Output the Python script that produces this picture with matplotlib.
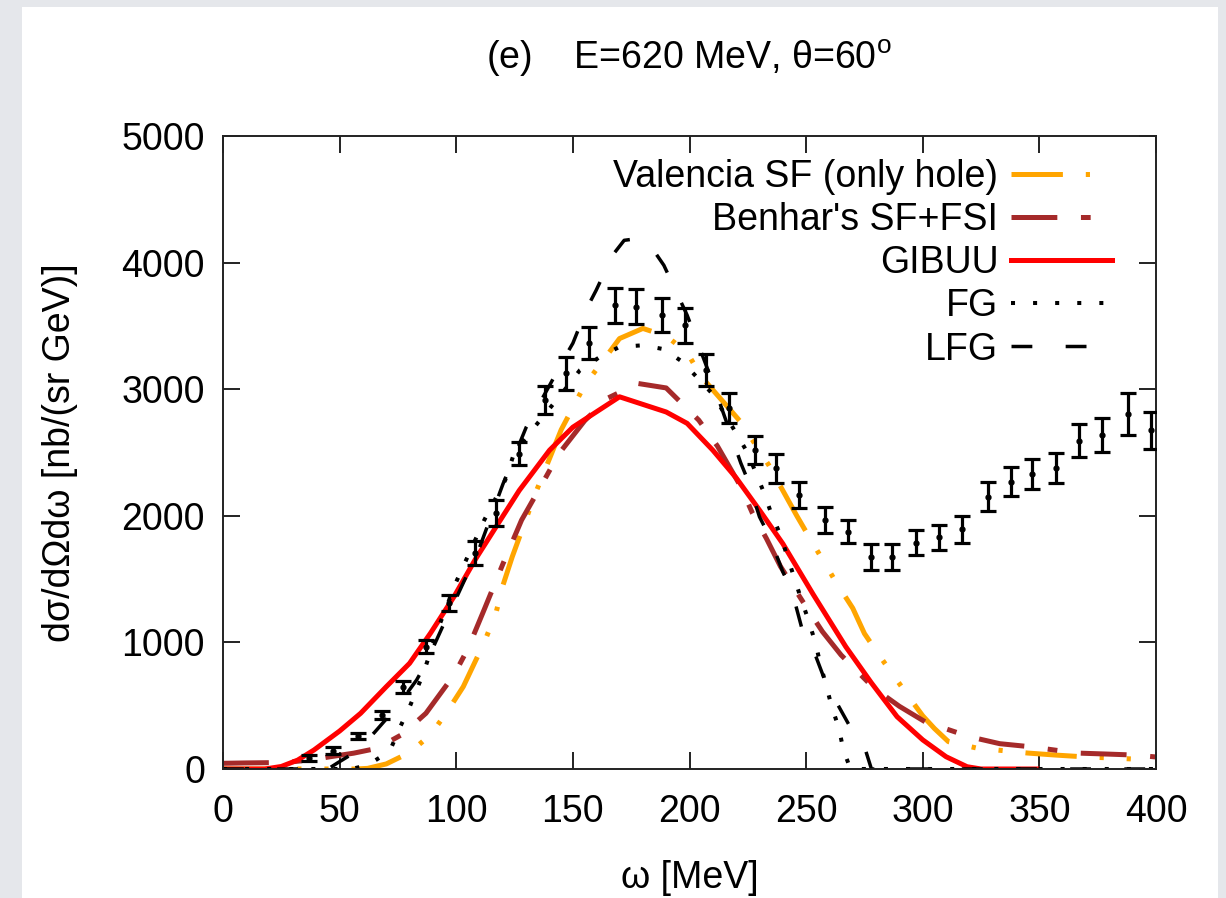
import numpy as np
import matplotlib
matplotlib.use('Agg')
import matplotlib.pyplot as plt
from matplotlib.patches import Rectangle

plt.rcParams['font.family'] = ['Liberation Sans', 'DejaVu Sans']
plt.rcParams['mathtext.fontset'] = 'custom'
plt.rcParams['mathtext.rm'] = 'Liberation Sans'
plt.rcParams['lines.scale_dashes'] = False

# experimental data
data_w = [37, 47, 58, 68, 77, 87, 97, 108, 117, 127, 138, 147, 157, 168, 177, 188, 198, 207, 217,
          228, 237, 247, 258, 268, 278, 287, 297, 307, 317, 328, 338, 347, 357, 367, 377, 388, 398]
data_y = [87, 145, 260, 426, 650, 966, 1310, 1705, 2021, 2490, 2913, 3126, 3363, 3663, 3650, 3585, 3505, 3150, 2850,
          2518, 2376, 2163, 1966, 1874, 1673, 1673, 1787, 1830, 1893, 2150, 2268, 2329, 2376, 2592, 2637, 2803, 2676]
data_err = [25, 25, 22, 33, 46, 53, 65, 92, 100, 90, 110, 130, 125, 138, 138, 135, 140, 125, 120,
            110, 115, 105, 100, 90, 105, 105, 100, 100, 105, 115, 115, 120, 120, 130, 135, 165, 145]

# Valencia SF (only hole)
val_w = [0, 20, 40, 57, 62, 70, 80, 89, 96, 103, 112, 117, 120, 124, 134, 145, 155, 170, 180, 190, 199, 205,
         214, 222, 234, 240, 246, 252, 263, 270, 275, 282, 295, 300, 305, 311, 323, 345, 357, 370, 381, 399]
val_y = [0, 0, 0, 0, 5, 40, 130, 270, 450, 650, 1000, 1230, 1450, 1676, 2180, 2680, 3030, 3400, 3480, 3420, 3290, 3100,
         2910, 2740, 2400, 2200, 2000, 1810, 1470, 1270, 1070, 880, 545, 420, 320, 216, 166, 126, 110, 95, 87, 71]

# Benhar's SF+FSI
ben_w = [0, 10, 20, 30, 38, 46, 56, 66, 77, 87, 99, 105, 112, 120, 128, 137, 144, 155, 165, 178, 190,
         204, 212, 222, 227, 233, 239, 250, 257, 265, 279, 290, 301, 320, 333, 346, 366, 379, 391, 400]
ben_y = [45, 48, 50, 58, 72, 97, 125, 163, 275, 440, 742, 950, 1260, 1620, 1966, 2258, 2490, 2750, 2930, 3045, 3010,
         2755, 2550, 2230, 2020, 1820, 1600, 1281, 1085, 900, 640, 495, 373, 255, 200, 176, 126, 118, 110, 95]

# GIBUU
gib_w = [0, 18, 25, 32, 39, 50, 59, 70, 80, 89, 99, 108, 118, 127, 140, 150, 160, 170, 180, 190, 199,
         210, 220, 230, 240, 253, 267, 278, 289, 300, 310, 319, 325, 349]
gib_y = [0, 0, 20, 70, 150, 300, 440, 650, 835, 1074, 1360, 1650, 1940, 2200, 2518, 2700, 2820, 2940, 2880, 2820, 2730,
         2518, 2300, 2045, 1780, 1380, 966, 680, 413, 230, 97, 18, 0, 0]

# FG
fg_w = [0, 55, 62, 68, 72, 76, 80, 86, 92, 100, 112, 121, 125, 135, 145, 153, 162, 170, 180, 189, 197,
        210, 220, 225, 232, 235, 239, 242, 248, 251, 254, 256, 261, 264, 266, 269, 400]
fg_y = [0, 0, 30, 100, 163, 334, 490, 760, 1100, 1479, 1966, 2282, 2505, 2734, 2960, 3150, 3260, 3334, 3347, 3316, 3216,
        2960, 2653, 2495, 2179, 2021, 1847, 1676, 1334, 1176, 995, 837, 492, 324, 150, 0, 0]

# LFG
lfg_w = [0, 45, 49, 57, 65, 75, 83, 87, 96, 99, 110, 120, 130, 140, 147, 150, 156, 160, 167, 172, 178, 184, 189,
         196, 199, 210, 222, 225, 230, 234, 240, 244, 248, 252, 258, 262, 270, 275, 278, 400]
lfg_y = [0, 0, 47, 137, 290, 500, 703, 834, 1200, 1310, 1750, 2250, 2700, 3030, 3268, 3363, 3640, 3782, 4058, 4176, 4190, 4113, 3979,
         3703, 3584, 3050, 2416, 2282, 1992, 1847, 1558, 1400, 1123, 995, 703, 560, 295, 176, 0, 0]

W, H = 1226, 898
fs = 27

fig = plt.figure(figsize=(W / 100, H / 100), dpi=100, facecolor='#e5e7eb')
fig.add_artist(Rectangle((22 / W, 0), (1218 - 22) / W, (H - 7) / H, transform=fig.transFigure,
                         facecolor='white', edgecolor='none', zorder=-1))
ax = fig.add_axes([223 / W, 1 - 769 / H, 933 / W, 633 / H])

ax.plot(val_w, val_y, color='#ffa500', lw=3.6, dashes=(37, 16.5, 3, 16.5, 3, 16.5), label='Valencia SF (only hole)')
ax.plot(ben_w, ben_y, color='#a52a2a', lw=3.6, dashes=(33, 17, 7, 17), label="Benhar's SF+FSI")
ax.plot(gib_w, gib_y, color='#ff0000', lw=3.6, label='GIBUU')
ax.plot(fg_w, fg_y, color='black', lw=2.9, dashes=(2.9, 13), label='FG')
ax.plot(lfg_w, lfg_y, color='black', lw=2.5, dashes=(15, 24), label='LFG')

ax.errorbar(data_w, data_y, yerr=data_err, fmt='o', color='black', ms=3.5, elinewidth=2.3,
            capsize=6, capthick=2.3, zorder=5)

ax.set_xlim(0, 400)
ax.set_ylim(0, 5000)
ax.set_xticks(np.arange(0, 401, 50))
ax.set_yticks(np.arange(0, 5001, 1000))
for s in ax.spines.values():
    s.set_linewidth(1.4)
    s.set_color('#222222')
ax.tick_params(direction='in', length=12, width=1.4, top=True, right=True, labelsize=fs, color='#222222')
ax.tick_params(axis='y', pad=13)
ax.tick_params(axis='x', pad=18)

leg = ax.legend(loc='upper right', bbox_to_anchor=(1112 / W, 1 - 159 / H), bbox_transform=fig.transFigure,
                frameon=False, markerfirst=False, fontsize=fs, handlelength=2.7, handletextpad=0.33,
                labelspacing=0.19, borderpad=0, borderaxespad=0)

fig.text(689 / W, 1 - 58 / H, r'(e)    E=620 MeV, θ=60$^{\mathrm{o}}$', ha='center', va='center', fontsize=fs)
fig.text(60 / W, 1 - 453 / H, 'dσ/dΩdω [nb/(sr GeV)]', rotation=90, ha='center', va='center', fontsize=fs)
fig.text(690 / W, 1 - 878 / H, 'ω [MeV]', ha='center', va='center', fontsize=fs)

fig.savefig('out.png', dpi=100, facecolor=fig.get_facecolor())
